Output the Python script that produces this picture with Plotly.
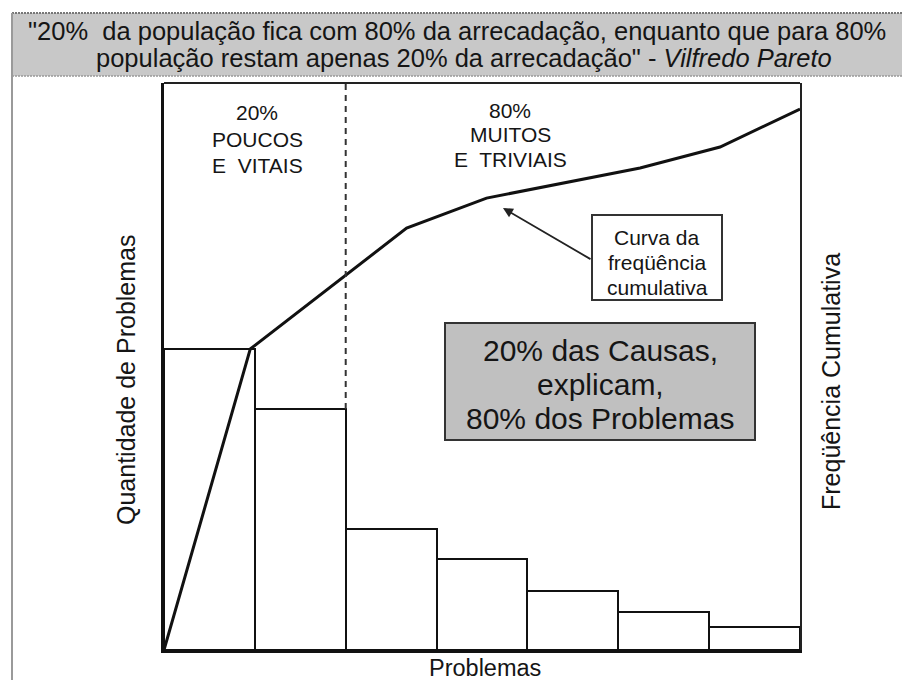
import plotly.graph_objects as go

# ---- data -------------------------------------------------------------
problem_pos = [0.5, 1.5, 2.5, 3.5, 4.5, 5.5, 6.5]          # bar centres (problem index)
quantidade = [30.1, 24.1, 12.1, 9.1, 5.9, 3.8, 2.3]          # quantity of problems
cum_x = [0, 0.95, 2.67, 3.55, 5.24, 6.12, 7.0]                # cumulative curve, x
cum_pct = [0, 53.1, 74.4, 79.7, 85.0, 88.7, 95.4]             # cumulative frequency (%)

header_lines = ['"20%  da população fica com 80% da arrecadação, enquanto que para 80%',
                'população restam apenas 20% da arrecadação" - <i>Vilfredo Pareto</i>']
vitais_lines = ["20%", "POUCOS", "E  VITAIS"]
triviais_lines = ["80%", "MUITOS", "E  TRIVIAIS"]
curva_lines = ["Curva da", "freqüência", "cumulativa"]
causas_lines = ["20% das Causas,", "explicam,", "80% dos Problemas"]
y_title = "Quantidade de Problemas"
y2_title = "Freqüência Cumulativa"
x_title = "Problemas"

# ---- layout geometry (pixels) ----------------------------------------
W, H = 902, 680
L, R, T, B = 164, 800, 83, 650
X_MAX, Y_MAX = 7.0, 56.7


def px(xp):
    """pixel column -> paper x"""
    return (xp - L) / (R - L)


def py(yp):
    """pixel row -> paper y"""
    return (B - yp) / (B - T)


def dx(xp):
    """pixel column -> data x"""
    return px(xp) * X_MAX


def dy(yp):
    """pixel row -> data y (left axis)"""
    return py(yp) * Y_MAX


FONT = "Liberation Sans, Arial, sans-serif"
INK = "#151515"

fig = go.Figure()

fig.add_trace(go.Bar(
    x=problem_pos, y=quantidade, width=1.0,
    marker=dict(color="white", line=dict(color="#111", width=2)),
    showlegend=False, hoverinfo="skip",
))

fig.add_trace(go.Scatter(
    x=cum_x, y=cum_pct, yaxis="y2", mode="lines",
    line=dict(color="#111", width=3),
    showlegend=False, hoverinfo="skip",
))

shapes = [
    # header band
    dict(type="rect", xref="paper", yref="paper",
         x0=px(12), x1=px(910), y0=py(76), y1=py(13),
         fillcolor="#c8c8c8", line=dict(width=0), layer="below"),
    dict(type="line", xref="paper", yref="paper",
         x0=px(12), x1=px(910), y0=py(13), y1=py(13),
         line=dict(color="#777", width=2, dash="2px,1px")),
    dict(type="line", xref="paper", yref="paper",
         x0=px(12), x1=px(910), y0=py(76), y1=py(76),
         line=dict(color="#999", width=1.5, dash="2px,1px")),
    # outer frame, left side
    dict(type="line", xref="paper", yref="paper",
         x0=px(12), x1=px(12), y0=py(13), y1=py(682),
         line=dict(color="#9a9a9a", width=2)),
    # top of the plot box
    dict(type="line", xref="paper", yref="paper",
         x0=0, x1=1, y0=1, y1=1,
         line=dict(color="#222", width=2)),
    # 20% / 80% divider
    dict(type="line", xref="x", yref="y",
         x0=2, x1=2, y0=quantidade[1], y1=Y_MAX,
         line=dict(color="#333", width=2, dash="6px,5px")),
    # callout box for the cumulative curve
    dict(type="rect", xref="x", yref="y",
         x0=dx(592), x1=dx(722), y0=dy(300), y1=dy(215),
         fillcolor="white", line=dict(color="#333", width=2)),
    # grey summary box
    dict(type="rect", xref="x", yref="y",
         x0=dx(445), x1=dx(755), y0=dy(440), y1=dy(323),
         fillcolor="#c0c0c0", line=dict(color="#333", width=2)),
]

annotations = []


def add_lines(lines, xc, rows, size, ref="paper"):
    """Stack text lines centred on pixel column xc at the given pixel rows."""
    for txt, row in zip(lines, rows):
        if ref == "paper":
            x, y = px(xc), py(row)
        else:
            x, y = dx(xc), dy(row)
        annotations.append(dict(
            text=txt, xref=ref, yref=ref, x=x, y=y,
            xanchor="center", yanchor="middle", showarrow=False,
            font=dict(family=FONT, size=size, color=INK)))


add_lines(header_lines[:1], 457, [31], 25.5)
add_lines(header_lines[1:], 464, [58], 25.5)
add_lines(vitais_lines, 257, [112, 139, 165], 21, ref="data")
add_lines(triviais_lines, 510, [110, 134, 159], 21, ref="data")
add_lines(curva_lines, 657, [237, 262, 287], 21, ref="data")
add_lines(causas_lines, 600, [350, 384, 418], 30, ref="data")

# fix refs of data-anchored lines
for a in annotations:
    if a["xref"] == "data":
        a["xref"], a["yref"] = "x", "y"

# arrow pointing at the cumulative curve
annotations.append(dict(
    text="", xref="x", yref="y", x=dx(503), y=dy(208),
    axref="x", ayref="y", ax=dx(592), ay=dy(260),
    showarrow=True, arrowhead=2, arrowsize=1.1, arrowwidth=1.8,
    arrowcolor="#222", standoff=0))

# axis titles
annotations += [
    dict(text=y_title, xref="paper", yref="paper", x=px(126), y=py(380),
         xanchor="center", yanchor="middle", textangle=-90, showarrow=False,
         font=dict(family=FONT, size=25, color=INK)),
    dict(text=y2_title, xref="paper", yref="paper", x=px(831), y=py(382),
         xanchor="center", yanchor="middle", textangle=-90, showarrow=False,
         font=dict(family=FONT, size=25, color=INK)),
    dict(text=x_title, xref="paper", yref="paper", x=px(485), y=py(668),
         xanchor="center", yanchor="middle", showarrow=False,
         font=dict(family=FONT, size=23.5, color=INK)),
]

fig.update_layout(
    width=W, height=H,
    margin=dict(l=L, r=W - R, t=T, b=H - B, pad=0),
    paper_bgcolor="white", plot_bgcolor="white",
    bargap=0, showlegend=False,
    xaxis=dict(range=[0, X_MAX], showgrid=False, zeroline=False,
               showticklabels=False, ticks="",
               showline=True, linecolor="#111", linewidth=3),
    yaxis=dict(range=[0, Y_MAX], showgrid=False, zeroline=False,
               showticklabels=False, ticks="",
               showline=True, linecolor="#111", linewidth=3),
    yaxis2=dict(range=[0, 100], overlaying="y", side="right",
                showgrid=False, zeroline=False, showticklabels=False,
                ticks="", showline=True, linecolor="#222", linewidth=2),
    shapes=shapes,
    annotations=annotations,
)

fig.write_html("out.html")
